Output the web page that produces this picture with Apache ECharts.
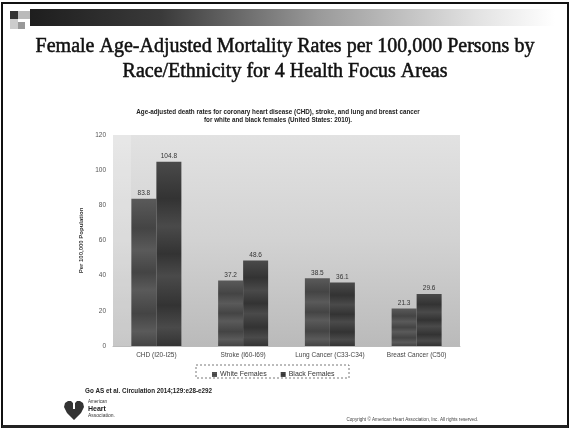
<!DOCTYPE html>
<html>
<head>
<meta charset="utf-8">
<script src="https://cdn.jsdelivr.net/npm/echarts@6/dist/echarts.min.js"></script>
<style>
  html, body { margin: 0; padding: 0; background: #fff; }
  #chart { width: 571px; height: 430px; }
</style>
</head>
<body>
<div id="chart"></div>
<script>
// Age-adjusted death rates per 100,000 females, United States 2010
const categories = ['CHD (I20-I25)', 'Stroke (I60-I69)', 'Lung Cancer (C33-C34)', 'Breast Cancer (C50)'];
const whiteFemales = [83.8, 37.2, 38.5, 21.3];
const blackFemales = [104.8, 48.6, 36.1, 29.6];
const yTicks = { min: 0, max: 120, interval: 20 };
const seriesNames = ['White Females', 'Black Females'];

const chart = echarts.init(document.getElementById('chart'), null, { renderer: 'canvas' });

// banded vertical fill gives the bars their streaky texture
function barFill(base, dark) {
  return new echarts.graphic.LinearGradient(0, 0, 0, 1, [
    { offset: 0, color: base },
    { offset: 0.2, color: dark },
    { offset: 0.35, color: base },
    { offset: 0.5, color: dark },
    { offset: 0.62, color: base },
    { offset: 0.78, color: dark },
    { offset: 0.9, color: base },
    { offset: 1, color: dark }
  ]);
}

const gridBox = { left: 113, top: 135, width: 347, height: 211 };
const titleFont = '20px "Liberation Serif", serif';

chart.setOption({
  backgroundColor: '#ffffff',
  animation: false,
  graphic: [
    // slide frame
    { type: 'rect', shape: { x: 2, y: 3, width: 566, height: 424 }, style: { fill: 'none', stroke: '#111', lineWidth: 2 }, z: 10 },
    { type: 'rect', shape: { x: 2, y: 425, width: 566, height: 3 }, style: { fill: '#222' }, z: 10 },
    // header band
    { type: 'rect', shape: { x: 30, y: 9, width: 525, height: 17 },
      style: { fill: new echarts.graphic.LinearGradient(0, 0, 1, 0, [
        { offset: 0, color: '#1e1e1e' }, { offset: 0.25, color: '#3a3a3a' },
        { offset: 0.55, color: '#9a9a9a' }, { offset: 0.85, color: '#e2e2e2' }, { offset: 1, color: '#ffffff' }]) } },
    { type: 'rect', shape: { x: 10, y: 11, width: 8, height: 8 }, style: { fill: '#333' } },
    { type: 'rect', shape: { x: 18, y: 11, width: 12, height: 8 }, style: { fill: '#bbb' } },
    { type: 'rect', shape: { x: 10, y: 19, width: 8, height: 10 }, style: { fill: '#ccc' } },
    { type: 'rect', shape: { x: 18, y: 22, width: 7, height: 7 }, style: { fill: '#999' } },
    // title
    { type: 'text', x: 285, y: 47, style: { text: 'Female Age-Adjusted Mortality Rates per 100,000 Persons by', font: titleFont, fill: '#111', stroke: '#111', lineWidth: 0.5, align: 'center', verticalAlign: 'middle' } },
    { type: 'text', x: 285, y: 72, style: { text: 'Race/Ethnicity for 4 Health Focus Areas', font: titleFont, fill: '#111', stroke: '#111', lineWidth: 0.5, align: 'center', verticalAlign: 'middle' } },
    // chart subtitle
    { type: 'text', x: 278, y: 112, style: { text: 'Age-adjusted death rates for coronary heart disease (CHD), stroke, and lung and breast cancer', font: 'bold 6.3px "Liberation Sans", sans-serif', fill: '#222', align: 'center', verticalAlign: 'middle' } },
    { type: 'text', x: 278, y: 120, style: { text: 'for white and black females (United States: 2010).', font: 'bold 6.3px "Liberation Sans", sans-serif', fill: '#222', align: 'center', verticalAlign: 'middle' } },
    // plot background
    { type: 'rect', z: -1, shape: { x: gridBox.left, y: gridBox.top, width: gridBox.width, height: gridBox.height },
      style: { fill: new echarts.graphic.LinearGradient(0, 0, 0, 1, [
        { offset: 0, color: '#e2e2e2' }, { offset: 0.5, color: '#d2d2d2' }, { offset: 1, color: '#bababa' }]) } },
    { type: 'rect', z: -1, shape: { x: gridBox.left, y: gridBox.top, width: 18, height: gridBox.height },
      style: { fill: 'rgba(255,255,255,0.2)' } },
    // legend frame
    { type: 'rect', shape: { x: 196, y: 365, width: 153, height: 13 }, style: { fill: 'none', stroke: '#555', lineWidth: 0.8, lineDash: [2, 2] } },
    // source
    { type: 'text', x: 85, y: 391, style: { text: 'Go AS et al. Circulation 2014;129:e28-e292', font: 'bold 6.3px "Liberation Sans", sans-serif', fill: '#222', verticalAlign: 'middle' } },
    // logo
    { type: 'polygon', shape: { points: [[74, 420], [67, 413], [64, 407], [65, 403], [68, 401], [71, 401], [74, 404], [77, 401], [80, 401], [83, 403], [84, 407], [81, 413]] }, style: { fill: '#333' } },
    { type: 'rect', shape: { x: 73, y: 398, width: 2, height: 11 }, style: { fill: '#fff' } },
    { type: 'text', x: 88, y: 402, style: { text: 'American', font: '4.5px "Liberation Sans", sans-serif', fill: '#333', verticalAlign: 'middle' } },
    { type: 'text', x: 88, y: 409, style: { text: 'Heart', font: 'bold 7px "Liberation Sans", sans-serif', fill: '#222', verticalAlign: 'middle' } },
    { type: 'text', x: 88, y: 416, style: { text: 'Association.', font: '5px "Liberation Sans", sans-serif', fill: '#333', verticalAlign: 'middle' } },
    // copyright
    { type: 'text', x: 478, y: 420, style: { text: 'Copyright \u00a9 American Heart Association, Inc. All rights reserved.', font: '4.6px "Liberation Sans", sans-serif', fill: '#444', align: 'right', verticalAlign: 'middle' } }
  ],
  legend: {
    data: seriesNames,
    left: 207,
    top: 366,
    itemWidth: 5,
    itemHeight: 5,
    itemGap: 14,
    icon: 'rect',
    textStyle: { fontSize: 7, color: '#333', fontFamily: 'Liberation Sans', padding: [0, 0, 0, -2] }
  },
  grid: { left: gridBox.left, top: gridBox.top, width: gridBox.width, height: gridBox.height },
  xAxis: {
    type: 'category',
    data: categories,
    axisLine: { show: true, lineStyle: { color: '#bbb' } },
    axisTick: { show: false },
    axisLabel: { interval: 0, fontSize: 6.5, color: '#444', margin: 6, fontFamily: 'Liberation Sans' }
  },
  yAxis: {
    type: 'value',
    min: yTicks.min,
    max: yTicks.max,
    interval: yTicks.interval,
    name: 'Per 100,000 Population',
    nameLocation: 'middle',
    nameGap: 20,
    nameRotate: 90,
    nameTextStyle: { fontSize: 6, fontWeight: 'bold', color: '#333', fontFamily: 'Liberation Sans' },
    axisLine: { show: false },
    axisTick: { show: false },
    splitLine: { show: false },
    axisLabel: { fontSize: 6.5, color: '#555', margin: 7, fontFamily: 'Liberation Sans' }
  },
  series: [
    {
      name: seriesNames[0], type: 'bar', data: whiteFemales, barWidth: 25, barGap: '0%',
      itemStyle: { color: barFill('#5a5a5a', '#444444') },
      label: { show: true, position: 'top', distance: 2, fontSize: 6.5, color: '#333', formatter: p => p.value.toFixed(1) }
    },
    {
      name: seriesNames[1], type: 'bar', data: blackFemales, barWidth: 25,
      itemStyle: { color: barFill('#4a4a4a', '#333333') },
      label: { show: true, position: 'top', distance: 2, fontSize: 6.5, color: '#333', formatter: p => p.value.toFixed(1) }
    }
  ]
});
</script>
</body>
</html>
